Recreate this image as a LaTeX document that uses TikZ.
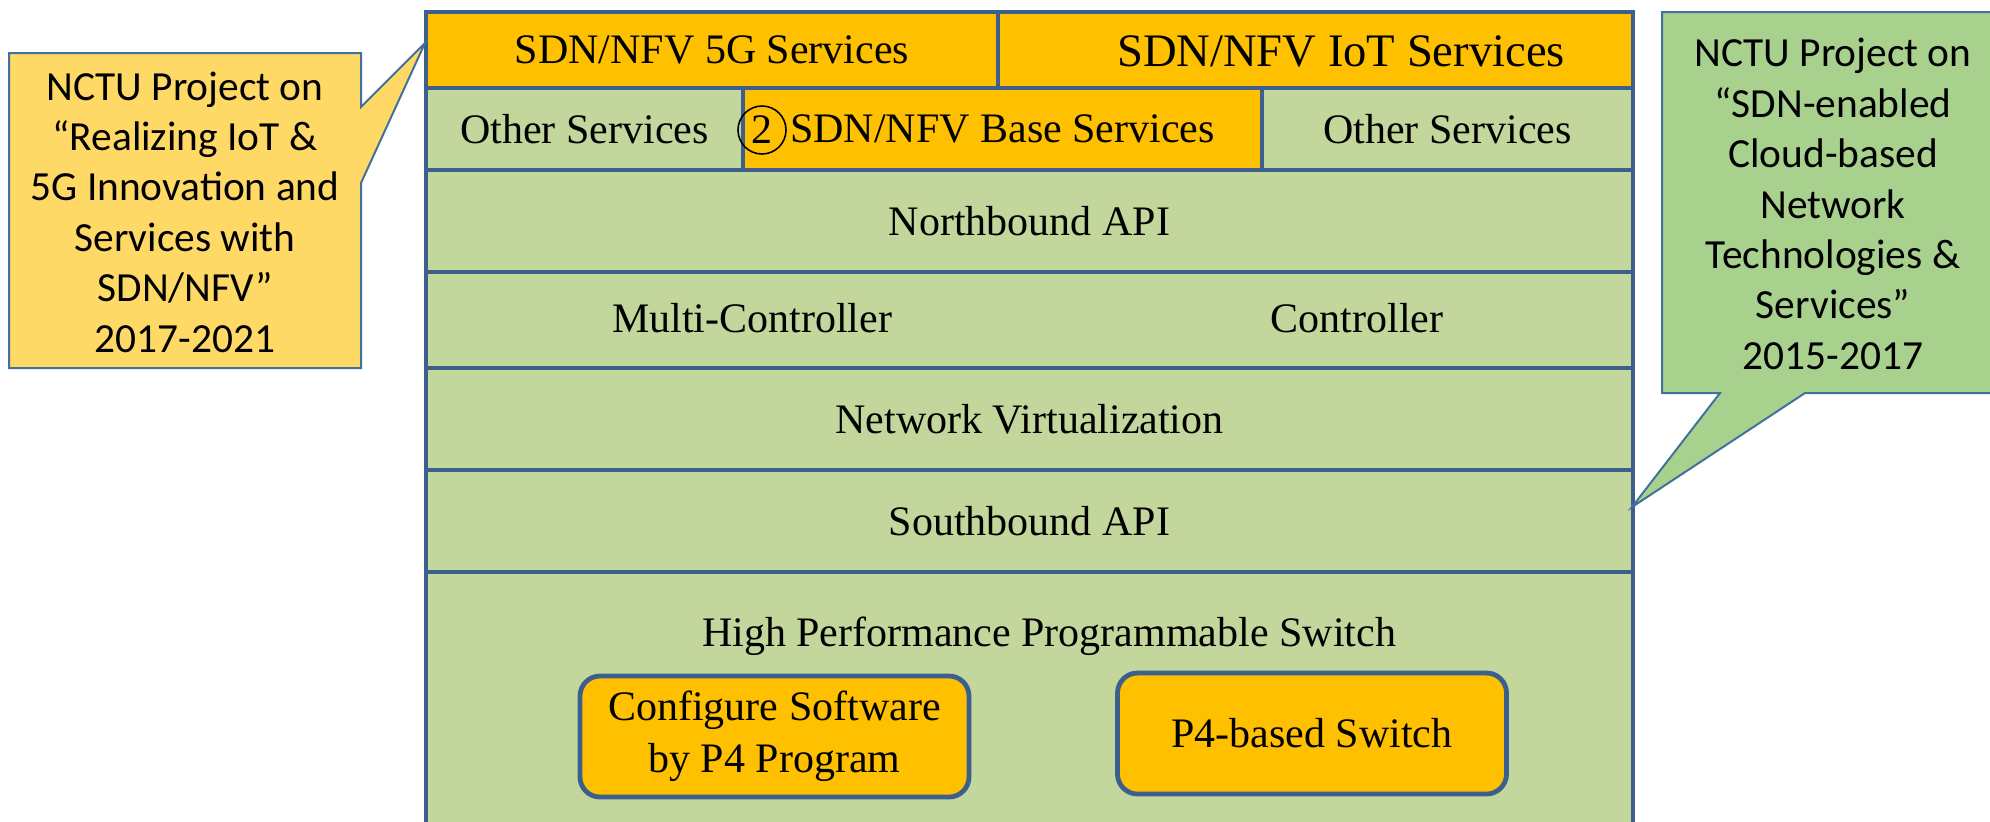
\documentclass[tikz,border=0pt]{standalone}
\usepackage{fontspec}
\setmainfont{Liberation Serif}
\newfontfamily\callfont{Carlito}
\definecolor{edge}{HTML}{3C5F8E}
\definecolor{calledge}{HTML}{41719C}
\definecolor{amber}{HTML}{FFC000}
\definecolor{sage}{HTML}{C3D69B}
\definecolor{noteyellow}{HTML}{FFD966}
\definecolor{notegreen}{HTML}{A9D18E}
\tikzset{
  layer/.style={draw=edge, line width=2.4pt, fill=sage, inner sep=0pt, font=\fontsize{21}{25}\selectfont},
  hot/.style={layer, fill=amber},
  lbl/.style={inner sep=0pt, font=\fontsize{21}{25}\selectfont},
  chip/.style={draw=edge, line width=2.4pt, fill=amber, rounded corners=10pt, inner sep=0pt,
    minimum width=194.5pt, minimum height=60.5pt, align=center, font=\fontsize{21}{26}\selectfont},
  note/.style={draw=calledge, line width=1pt, line join=miter},
  notetext/.style={inner sep=0pt, align=center, font=\callfont\fontsize{20.7}{25.2}\selectfont},
}
\begin{document}
\begin{tikzpicture}[x=0.5pt, y=-0.5pt]
\useasboundingbox (0,0) rectangle (1990,821);
\clip (0,0) rectangle (1990,821);

% service layer
\node[hot, minimum width=286pt, minimum height=38pt] (s5g) at (712,50) {SDN/NFV 5G Services};
\node[hot, minimum width=317.5pt, minimum height=38pt] (siot) at (1315.5,50) {};
\node[lbl, font=\fontsize{23.3}{28}\selectfont] (siotlbl) at (1341,51) {SDN/NFV IoT Services};

\node[layer, minimum width=158.5pt, minimum height=41pt] (oth1) at (584.5,129) {Other Services};
\node[hot, minimum width=259.5pt, minimum height=41pt] (base) at (1002.5,129) {SDN/NFV Base Services};
\node[layer, minimum width=185.5pt, minimum height=41pt] (oth2) at (1447.5,129) {Other Services};
\node[circle, draw=black, line width=0.8pt, minimum size=24pt, inner sep=0pt,
      font=\fontsize{21}{25}\selectfont] (num) at (762,130) {2};

% control and data layers
\node[layer, minimum width=603.5pt, minimum height=51pt] (north) at (1029.5,221) {Northbound API};
\node[layer, minimum width=603.5pt, minimum height=48pt] (ctrl) at (1029.5,320) {};
\node[lbl] (multi) at (752,318) {Multi-Controller};
\node[lbl] (single) at (1357,318) {Controller};
\node[layer, minimum width=603.5pt, minimum height=51pt] (nv) at (1029.5,419) {Network Virtualization};
\node[layer, minimum width=603.5pt, minimum height=51pt] (sb) at (1029.5,521) {Southbound API};
\node[layer, minimum width=603.5pt, minimum height=154pt] (hw) at (1029.5,726) {};
\node[lbl] (hwlbl) at (1049,636) {High Performance Programmable Switch};
\node[chip] (cfg) at (774.5,736.5) {Configure Software\\by P4 Program};
\node[chip] (p4) at (1312,733.5) {P4-based Switch};

% left callout
\coordinate (ltip) at (425,43);
\filldraw[note, fill=noteyellow] (9,53) -- (361,53) -- (361,107) -- (ltip) -- (361,183)
  -- (361,368) -- (9,368) -- cycle;
\node[notetext] (lnote) at (185,212) {NCTU Project on\\“Realizing IoT \&\\5G Innovation and\\Services with\\SDN/NFV”\\2017-2021};

% right callout
\coordinate (rtip) at (1632,507);
\filldraw[note, fill=notegreen] (1662,12) -- (2010,12) -- (2010,393) -- (1805,393) -- (rtip)
  -- (1720,393) -- (1662,393) -- cycle;
\node[notetext] (rnote) at (1833,204) {NCTU Project on\\“SDN-enabled\\Cloud-based\\Network\\Technologies \&\\Services”\\2015-2017};
\end{tikzpicture}
\end{document}
